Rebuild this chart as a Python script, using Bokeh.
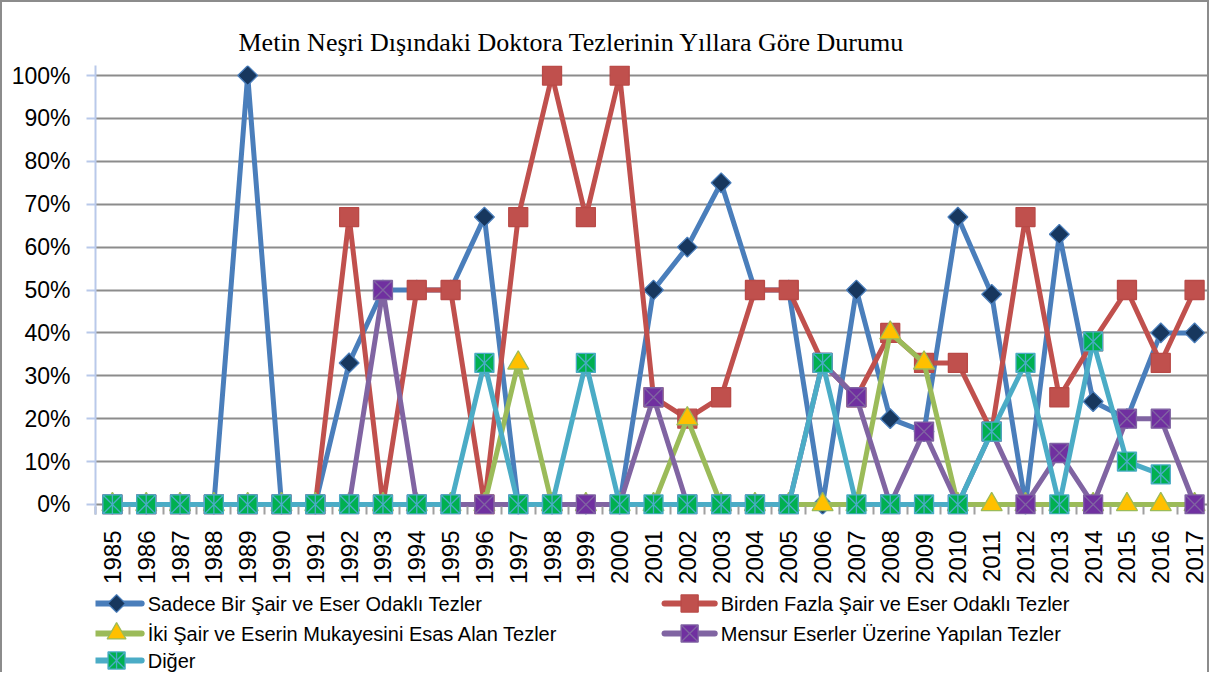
import numpy as np
from bokeh.plotting import figure
from bokeh.layouts import column
from bokeh.models import FixedTicker, Range1d, PrintfTickFormatter
from bokeh.core.properties import value
from bokeh.embed import file_html
from bokeh.resources import INLINE

title_text = "Metin Neşri Dışındaki Doktora Tezlerinin Yıllara Göre Durumu"
years = list(range(1985, 2018))
y_ticks = list(range(0, 101, 10))

names = [
    "Sadece Bir Şair ve Eser Odaklı Tezler",
    "Birden Fazla Şair ve Eser Odaklı Tezler",
    "İki Şair ve Eserin Mukayesini Esas Alan Tezler",
    "Mensur Eserler Üzerine Yapılan Tezler",
    "Diğer",
]

sadece = [0, 0, 0, 0, 100, 0, 0, 33, 50, 50, 50, 67, 0, 0, 0, 0, 50, 60, 75, 50, 50,
          0, 50, 20, 17, 67, 49, 0, 63, 24, 20, 40, 40]
birden = [0, 0, 0, 0, 0, 0, 0, 67, 0, 50, 50, 0, 67, 100, 67, 100, 25, 20, 25, 50, 50,
          33, 25, 40, 33, 33, 17, 67, 25, 38, 50, 33, 50]
iki = [0, 0, 0, 0, 0, 0, 0, 0, 0, 0, 0, 0, 33, 0, 0, 0, 0, 20, 0, 0, 0,
       0, 0, 40, 33, 0, 0, 0, 0, 0, 0, 0, 0]
mensur = [0, 0, 0, 0, 0, 0, 0, 0, 50, 0, 0, 0, 0, 0, 0, 0, 25, 0, 0, 0, 0,
          33, 25, 0, 17, 0, 17, 0, 12, 0, 20, 20, 0]
diger = [0, 0, 0, 0, 0, 0, 0, 0, 0, 0, 0, 33, 0, 0, 33, 0, 0, 0, 0, 0, 0,
         33, 0, 0, 0, 0, 17, 33, 0, 38, 10, 7, None]

def arr(v):
    return np.array([np.nan if a is None else a for a in v], dtype=float)

styles = [
    dict(line="#4a7ebb", marker="square", angle=np.pi / 4, size=14, fill="#17375e", mline="#4a7ebb"),
    dict(line="#c0504d", marker="square", angle=0.0, size=19, fill="#c0504d", mline="#b94a47"),
    dict(line="#9bbb59", marker="triangle", angle=0.0, size=21, fill="#ffc000", mline="#9bbb59"),
    dict(line="#8064a2", marker="square_x", angle=0.0, size=19, fill="#7030a0", mline="#8064a2"),
    dict(line="#4bacc6", marker="square_x", angle=0.0, size=19, fill="#00b050", mline="#4bacc6"),
]
series = [sadece, birden, iki, mensur, diger]

W = 1209
BORDER = 2
LEFT = 95 - BORDER
H1 = 586
H2 = 86
p = figure(width=W, height=H1, output_backend="svg", toolbar_location=None,
           x_range=Range1d(1984.5, 2017.5), y_range=Range1d(-2.34, 102.34),
           min_border_left=LEFT, min_border_right=0, min_border_top=65 - BORDER,
           min_border_bottom=74)
p.outline_line_color = None
p.background_fill_color = "white"
p.border_fill_color = "white"
p.styles = {"border-top": "2px solid #8c8c8c", "border-left": "2px solid #8c8c8c",
            "border-right": "2px solid #8c8c8c", "box-sizing": "border-box"}

p.title.text = title_text
p.title.text_font = "Liberation Serif"
p.title.text_font_size = "26px"
p.title.text_font_style = "normal"
p.title.text_color = "black"
p.title.align = "left"
p.title.offset = 143
p.title.standoff = 18

p.yaxis.ticker = FixedTicker(ticks=y_ticks)
p.yaxis.formatter = PrintfTickFormatter(format="%d%%")
p.yaxis.major_label_text_font = "Liberation Sans"
p.yaxis.major_label_text_font_size = "23px"
p.yaxis.major_label_text_color = "black"
p.yaxis.axis_line_color = "#b9c9ea"
p.yaxis.axis_line_width = 2
p.yaxis.major_tick_line_color = "#b9c9ea"
p.yaxis.major_tick_line_width = 2
p.yaxis.major_tick_out = 9
p.yaxis.major_tick_in = 0
p.yaxis.minor_tick_line_color = None
p.yaxis.major_label_standoff = 16

p.xaxis.ticker = FixedTicker(ticks=years, minor_ticks=[y + 0.5 for y in range(1984, 2018)])
p.xaxis.major_label_orientation = np.pi / 2
p.xaxis.major_label_text_font = "Liberation Sans"
p.xaxis.major_label_text_font_size = "24px"
p.xaxis.major_label_text_color = "black"
p.xaxis.axis_line_color = None
p.xaxis.major_tick_line_color = None
p.xaxis.minor_tick_line_color = "#a0a0a0"
p.xaxis.minor_tick_line_width = 2
p.xaxis.minor_tick_in = 8
p.xaxis.minor_tick_out = 0
p.xaxis.major_label_standoff = 10

p.xgrid.grid_line_color = None
p.ygrid.grid_line_color = "#8c8c8c"
p.ygrid.grid_line_width = 2

LW = 5
for vals, st in zip(series, styles):
    y = arr(vals)
    p.line(years, y, line_color=st["line"], line_width=LW)
    p.scatter(years, y, marker=st["marker"], angle=st["angle"], size=st["size"],
              fill_color=st["fill"], line_color=st["mline"], line_width=1.3)
# extra vertical stroke of the "Diğer" marker
p.scatter(years, arr(diger), marker="dash", angle=np.pi / 2, size=19,
          line_color="#4bacc6", line_width=1.3)

# legend panel below the chart (coordinates in pixels of the page)
lg = figure(width=W, height=H2, output_backend="svg", toolbar_location=None,
            x_range=Range1d(95, W - BORDER), y_range=Range1d(H1 + H2, H1),
            x_axis_type=None, y_axis_type=None,
            min_border_left=LEFT, min_border_right=0, min_border_top=0, min_border_bottom=0)
lg.outline_line_color = None
lg.xgrid.grid_line_color = None
lg.ygrid.grid_line_color = None
lg.background_fill_color = "white"
lg.border_fill_color = "white"
lg.styles = {"border-left": "2px solid #8c8c8c", "border-right": "2px solid #8c8c8c",
             "box-sizing": "border-box"}

leg_x0 = [88, 659, 88, 659, 88]
leg_len = [56, 56, 56, 56, 56]
leg_y = [603, 603, 633, 633, 660]
for i, st in enumerate(styles):
    x0, L, yc = leg_x0[i], leg_len[i], leg_y[i]
    lg.line([x0 + 3, x0 + L - 3], [yc, yc], line_color=st["line"], line_width=6, line_cap="round")
    lg.scatter([x0 + L / 2], [yc], marker=st["marker"], angle=st["angle"],
               size=st["size"] * 0.9, fill_color=st["fill"], line_color=st["mline"], line_width=1.3)
    if i == 4:
        lg.scatter([x0 + L / 2], [yc], marker="dash", angle=np.pi / 2, size=st["size"] * 0.9,
                   line_color=st["mline"], line_width=1.3)
    lg.text([x0 + L + 3], [yc], text=[names[i]], text_font=value("Liberation Sans"),
            text_font_size="20px", text_baseline="middle", text_align="left",
            text_color="black")

layout = column(p, lg, spacing=0)

open("out.html", "w").write(file_html(layout, INLINE))
